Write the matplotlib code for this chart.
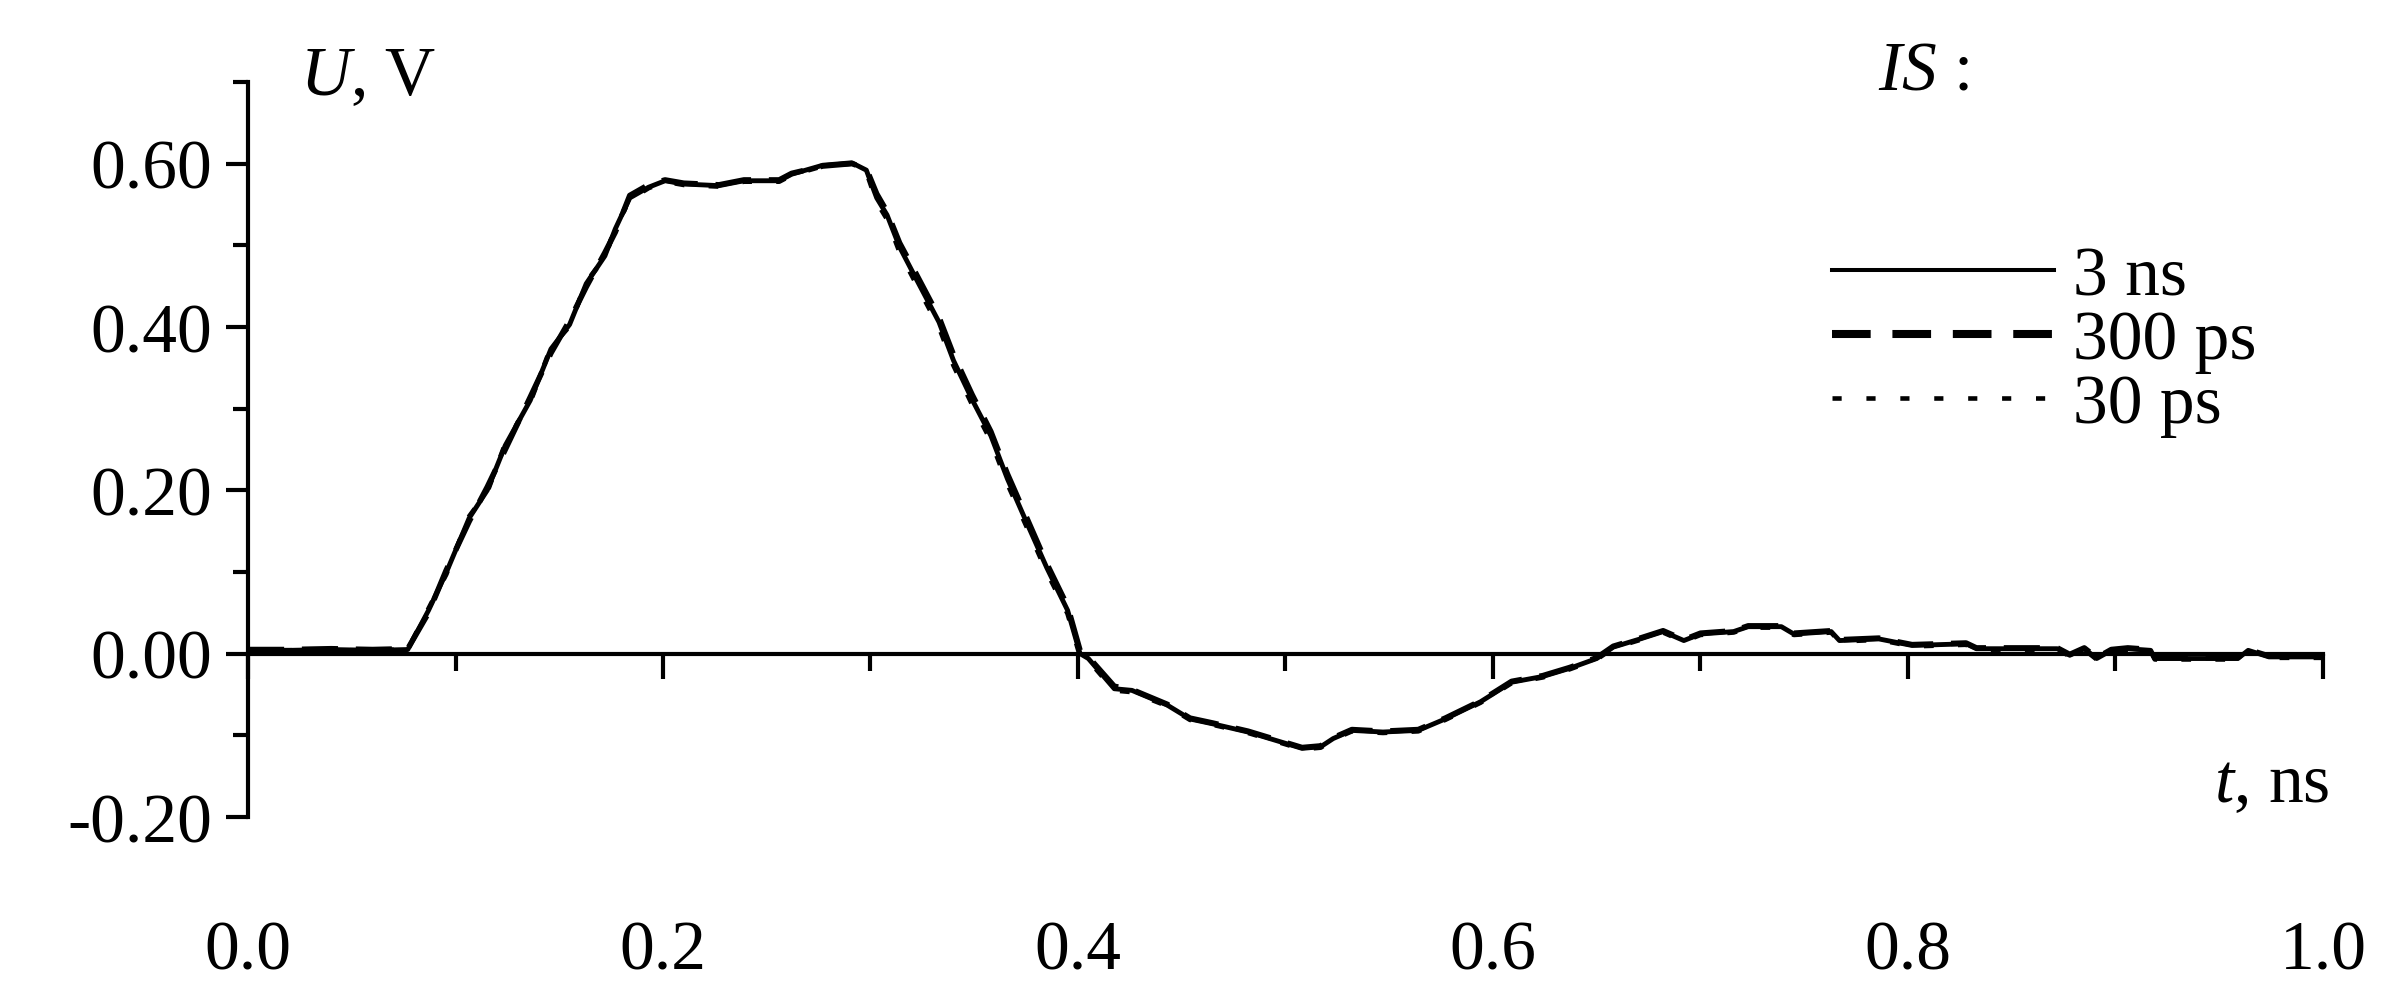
import numpy as np
import pandas as pd

from matplotlib import pyplot as plt

# 字体设置
plt.rcParams['font.family'] = ['Liberation Serif', 'DejaVu Serif']
plt.rcParams['mathtext.fontset'] = 'custom'
plt.rcParams['mathtext.it'] = 'Liberation Serif:italic'
plt.rcParams['mathtext.rm'] = 'Liberation Serif'

# 时间轴 t, ns
t_ns = [0.0, 0.02, 0.04, 0.06, 0.077, 0.087, 0.0955, 0.1066, 0.1153, 0.124,
        0.136, 0.146, 0.155, 0.163, 0.172, 0.177, 0.184, 0.193, 0.201, 0.210,
        0.227, 0.239, 0.256, 0.262, 0.277, 0.291, 0.298, 0.303, 0.308, 0.314,
        0.322, 0.333, 0.340, 0.349, 0.358, 0.366, 0.375, 0.385, 0.395, 0.401,
        0.405, 0.4175, 0.426, 0.443, 0.454, 0.465, 0.482, 0.495, 0.508, 0.517,
        0.523, 0.532, 0.547, 0.564, 0.577, 0.594, 0.609, 0.624, 0.637, 0.650,
        0.658, 0.671, 0.682, 0.692, 0.700, 0.716, 0.723, 0.739, 0.745, 0.763,
        0.767, 0.786, 0.802, 0.828, 0.833, 0.846, 0.872, 0.878, 0.885, 0.891,
        0.898, 0.906, 0.917, 0.919, 0.959, 0.964, 0.974, 1.0]

# IS = 3 ns
u_3ns = [0.004, 0.004, 0.005, 0.004, 0.005, 0.053, 0.099, 0.166, 0.200, 0.255,
         0.310, 0.373, 0.403, 0.453, 0.487, 0.520, 0.558, 0.571, 0.579, 0.575,
         0.573, 0.579, 0.579, 0.587, 0.598, 0.601, 0.592, 0.558, 0.537, 0.498,
         0.459, 0.406, 0.359, 0.311, 0.267, 0.214, 0.162, 0.105, 0.053, 0.000,
         -0.006, -0.043, -0.045, -0.063, -0.080, -0.086, -0.096, -0.106, -0.116, -0.114,
         -0.104, -0.094, -0.096, -0.094, -0.080, -0.059, -0.035, -0.028, -0.018, -0.006,
         0.008, 0.018, 0.027, 0.016, 0.024, 0.027, 0.033, 0.033, 0.024, 0.027,
         0.016, 0.018, 0.010, 0.012, 0.006, 0.006, 0.006, -0.002, 0.006, -0.006,
         0.004, 0.006, 0.004, -0.006, -0.006, 0.004, -0.004, -0.004]

# IS = 300 ps
u_300ps = [0.005, 0.005, 0.006, 0.005, 0.006, 0.050, 0.102, 0.162, 0.204, 0.250,
           0.314, 0.368, 0.408, 0.449, 0.491, 0.516, 0.561, 0.574, 0.580, 0.576,
           0.574, 0.580, 0.580, 0.588, 0.597, 0.600, 0.594, 0.563, 0.541, 0.503,
           0.465, 0.412, 0.366, 0.317, 0.272, 0.220, 0.168, 0.110, 0.058, 0.004,
           -0.004, -0.040, -0.044, -0.062, -0.079, -0.085, -0.095, -0.105, -0.115, -0.113,
           -0.103, -0.093, -0.095, -0.093, -0.079, -0.058, -0.034, -0.027, -0.017, -0.005,
           0.009, 0.019, 0.028, 0.017, 0.025, 0.028, 0.034, 0.034, 0.025, 0.028,
           0.017, 0.019, 0.011, 0.013, 0.007, 0.007, 0.007, -0.001, 0.007, -0.005,
           0.005, 0.007, 0.005, -0.005, -0.005, 0.005, -0.003, -0.003]

# IS = 30 ps
u_30ps = [0.004, 0.004, 0.004, 0.004, 0.005, 0.055, 0.097, 0.168, 0.198, 0.257,
          0.308, 0.375, 0.401, 0.455, 0.485, 0.522, 0.556, 0.570, 0.578, 0.574,
          0.572, 0.578, 0.578, 0.586, 0.597, 0.600, 0.590, 0.553, 0.532, 0.492,
          0.453, 0.400, 0.353, 0.305, 0.261, 0.208, 0.157, 0.100, 0.049, -0.003,
          -0.008, -0.045, -0.047, -0.064, -0.081, -0.087, -0.097, -0.107, -0.117, -0.115,
          -0.105, -0.095, -0.097, -0.095, -0.081, -0.060, -0.036, -0.029, -0.019, -0.007,
          0.007, 0.017, 0.026, 0.015, 0.023, 0.026, 0.032, 0.032, 0.023, 0.026,
          0.015, 0.017, 0.009, 0.011, 0.005, 0.005, 0.005, -0.003, 0.005, -0.007,
          0.003, 0.005, 0.003, -0.007, -0.007, 0.003, -0.005, -0.005]

series_labels = ['3 ns', '300 ps', '30 ps']

x_ticks = [0.0, 0.2, 0.4, 0.6, 0.8, 1.0]
x_tick_labels = ['0.0', '0.2', '0.4', '0.6', '0.8', '1.0']
x_minor = [0.1, 0.3, 0.5, 0.7, 0.9]
y_ticks = [-0.2, 0.0, 0.2, 0.4, 0.6]
y_tick_labels = ['-0.20', '0.00', '0.20', '0.40', '0.60']
y_minor = [-0.1, 0.1, 0.3, 0.5, 0.7]

df = pd.DataFrame({'t': t_ns, '3 ns': u_3ns, '300 ps': u_300ps, '30 ps': u_30ps})

fs = 50

fig = plt.figure(figsize=(23.94, 10.04), dpi=100)
ax = fig.add_axes([0.1036, 0.1853, 0.8667, 0.7321])

# 三条曲线
ax.plot(df['t'], df['30 ps'], color='black', linewidth=3.5, linestyle=(0, (2, 5)), label=series_labels[2])
ax.plot(df['t'], df['300 ps'], color='black', linewidth=4, linestyle=(0, (6.5, 3.2)), label=series_labels[1])
ax.plot(df['t'], df['3 ns'], color='black', linewidth=3.5, linestyle='-', label=series_labels[0])

ax.set_xlim(0, 1)
ax.set_ylim(-0.2, 0.7)

# 坐标轴样式
ax.spines['top'].set_visible(False)
ax.spines['right'].set_visible(False)
ax.spines['bottom'].set_position(('data', 0))
ax.spines['left'].set_linewidth(3)
ax.spines['bottom'].set_linewidth(3)

ax.set_xticks(x_ticks, x_tick_labels)
ax.set_xticks(x_minor, minor=True)
ax.set_yticks(y_ticks, y_tick_labels)
ax.set_yticks(y_minor, minor=True)

ax.tick_params(axis='x', which='major', direction='out', length=18, width=3, pad=174, labelsize=fs)
ax.tick_params(axis='x', which='minor', direction='out', length=12, width=3)
ax.tick_params(axis='y', which='major', direction='out', length=16, width=3, pad=10, labelsize=fs)
ax.tick_params(axis='y', which='minor', direction='out', length=11, width=3)

# 轴标题
fig.text(300 / 2394, 1 - 95 / 1004, r'$U$, V', fontsize=fs, va='baseline', ha='left')
fig.text(2329 / 2394, 1 - 802 / 1004, r'$t$, ns', fontsize=fs, va='baseline', ha='right')
fig.text(1878 / 2394, 1 - 90 / 1004, r'$IS$ :', fontsize=fs, va='baseline', ha='left')

# 图例
handles, labels = ax.get_legend_handles_labels()
order = [2, 1, 0]
leg = ax.legend([handles[i] for i in order], [labels[i] for i in order],
                loc='upper left', bbox_to_anchor=(1832 / 2394, 1 - 247 / 1004),
                bbox_transform=fig.transFigure, frameon=False, fontsize=fs,
                handlelength=3.2, handletextpad=0.27, labelspacing=0.0,
                borderpad=0, borderaxespad=0)
leg_lines = leg.get_lines()
leg_lines[0].set_linewidth(2.9)
leg_lines[1].set_linewidth(5.8)
leg_lines[1].set_linestyle((0, (4.8, 2.7)))
leg_lines[2].set_linewidth(3.3)
leg_lines[2].set_linestyle((0, (2, 5.4)))

fig.savefig('out.png', dpi=100, facecolor='white')
